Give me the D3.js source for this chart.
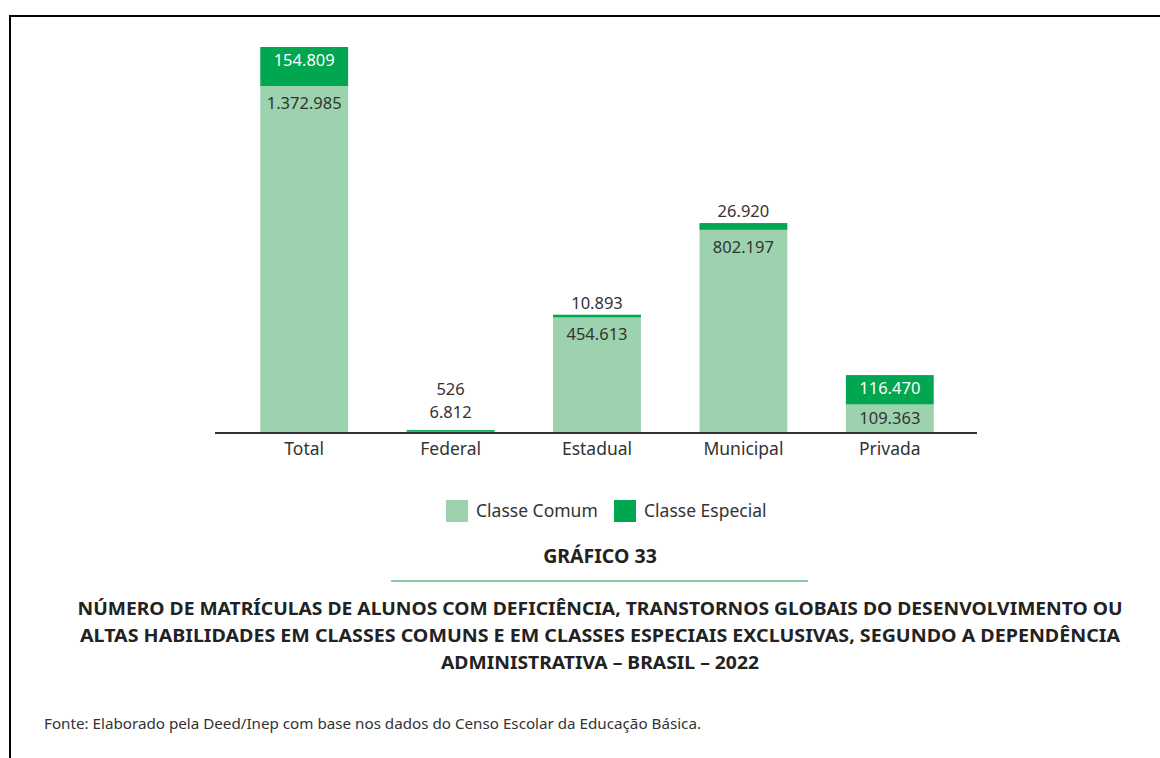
<!DOCTYPE html>
<html>
<head>
<meta charset="utf-8">
<script src="https://cdn.jsdelivr.net/npm/d3@7"></script>
<style>
  body { margin: 0; background: #fff; }
  svg { display: block; font-family: "Noto Sans", "Open Sans", sans-serif; }
</style>
</head>
<body>
<div id="chart"></div>
<script>
var categories = ['Total', 'Federal', 'Estadual', 'Municipal', 'Privada'];
var classeComum = [1372985, 6812, 454613, 802197, 109363];
var classeEspecial = [154809, 526, 10893, 26920, 116470];
var seriesNames = ['Classe Comum', 'Classe Especial'];
var titleLines = [
    'NÚMERO DE MATRÍCULAS DE ALUNOS COM DEFICIÊNCIA, TRANSTORNOS GLOBAIS DO DESENVOLVIMENTO OU',
    'ALTAS HABILIDADES EM CLASSES COMUNS E EM CLASSES ESPECIAIS EXCLUSIVAS, SEGUNDO A DEPENDÊNCIA',
    'ADMINISTRATIVA – BRASIL – 2022'
];

var width = 1160, height = 758;
var lightGreen = '#9cd3ae', darkGreen = '#00a650', textColor = '#333';

var fmt = function (v) {
    return d3.format(',')(v).replace(/,/g, '.');
};

var svg = d3.select('#chart').append('svg').attr('width', width).attr('height', height);

// page frame
svg.append('path')
   .attr('d', 'M10,758 V16 H1160')
   .attr('fill', 'none').attr('stroke', '#000').attr('stroke-width', 2);

var data = categories.map(function (c, i) {
    return { cat: c, comum: classeComum[i], especial: classeEspecial[i] };
});

var x = d3.scaleBand().domain(categories).range([231, 963]).paddingInner(0.4).paddingOuter(0.2);
var y = d3.scaleLinear()
    .domain([0, d3.max(data, function (d) { return d.comum + d.especial; })])
    .range([432, 47]);

var stack = d3.stack().keys(['comum', 'especial'])(data);
var colors = { comum: lightGreen, especial: darkGreen };

svg.selectAll('g.layer')
   .data(stack)
   .enter()
   .append('g')
   .attr('class', 'layer')
   .attr('fill', function (s) { return colors[s.key]; })
   .selectAll('rect')
   .data(function (s) { return s; })
   .enter()
   .append('rect')
   .attr('x', function (d) { return x(d.data.cat); })
   .attr('width', x.bandwidth())
   .attr('y', function (d) { return y(d[1]); })
   .attr('height', function (d) { return Math.max(y(d[0]) - y(d[1]), 1.5); });

// value labels
data.forEach(function (d) {
    var cx = x(d.cat) + x.bandwidth() / 2;
    var comTop = y(d.comum), comH = y(0) - comTop;
    var espTop = y(d.comum + d.especial), espH = comTop - espTop;
    var g = svg.append('g').attr('text-anchor', 'middle').attr('font-size', 16.5);
    var aboveY = espTop - 6;
    if (comH > 20) {
        g.append('text').attr('x', cx).attr('y', comTop + Math.min(23, comH / 2 + 6))
         .attr('fill', textColor).text(fmt(d.comum));
    } else {
        g.append('text').attr('x', cx).attr('y', aboveY - 6).attr('fill', textColor).text(fmt(d.comum));
        aboveY -= 29;
    }
    if (espH > 20) {
        g.append('text').attr('x', cx).attr('y', espTop + 19).attr('fill', '#fff').text(fmt(d.especial));
    } else {
        g.append('text').attr('x', cx).attr('y', aboveY).attr('fill', textColor).text(fmt(d.especial));
    }
});

// baseline
svg.append('line')
   .attr('x1', 215).attr('x2', 977).attr('y1', y(0) + 1).attr('y2', y(0) + 1)
   .attr('stroke', '#333').attr('stroke-width', 2);

var axis = svg.append('g')
   .attr('transform', 'translate(0,' + (y(0) + 2) + ')')
   .call(d3.axisBottom(x).tickSize(0).tickPadding(9));
axis.select('.domain').remove();
axis.selectAll('text').attr('font-size', 17.5).attr('fill', textColor)
    .attr('font-family', '"Noto Sans", sans-serif');

// legend
var legend = svg.append('g').attr('font-size', 17.5).attr('fill', textColor);
var legendX = [446, 614];
seriesNames.forEach(function (name, i) {
    legend.append('rect').attr('x', legendX[i]).attr('y', 500).attr('width', 22).attr('height', 22)
          .attr('fill', i === 0 ? lightGreen : darkGreen);
    legend.append('text').attr('x', legendX[i] + 30).attr('y', 517).text(name);
});

// caption
svg.append('text').attr('x', 600).attr('y', 563).attr('text-anchor', 'middle')
   .attr('font-size', 19.5).attr('font-weight', 'bold').attr('fill', '#222').text('GRÁFICO 33');
svg.append('line').attr('x1', 391).attr('x2', 808).attr('y1', 581).attr('y2', 581)
   .attr('stroke', '#5cbf80').attr('stroke-width', 1.5);

var titleWidths = [1045, 1040, 318];
svg.append('g').selectAll('text')
   .data(titleLines)
   .enter()
   .append('text')
   .attr('x', 600)
   .attr('y', function (d, i) { return 615 + i * 27; })
   .attr('text-anchor', 'middle')
   .attr('font-size', 18)
   .attr('font-weight', 'bold')
   .attr('fill', '#222')
   .attr('textLength', function (d, i) { return titleWidths[i]; })
   .attr('lengthAdjust', 'spacingAndGlyphs')
   .text(function (d) { return d; });

svg.append('text').attr('x', 44).attr('y', 729).attr('font-size', 15.2).attr('fill', '#333')
   .text('Fonte: Elaborado pela Deed/Inep com base nos dados do Censo Escolar da Educação Básica.');
</script>
</body>
</html>
